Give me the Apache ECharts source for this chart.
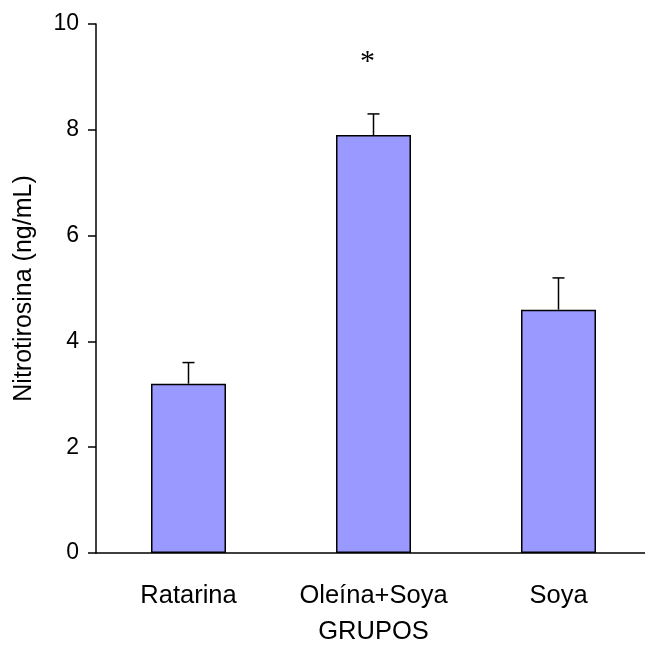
<!DOCTYPE html>
<html>
<head>
<meta charset="utf-8">
<script src="https://cdn.jsdelivr.net/npm/echarts@6/dist/echarts.min.js"></script>
<style>html,body{margin:0;padding:0;background:#fff}#c{width:645px;height:645px}</style>
</head>
<body>
<div id="c"></div>
<script>
var categories = ['Ratarina', 'Oleína+Soya', 'Soya'];
var values = [3.2, 7.9, 4.6];
var errors = [0.4, 0.4, 0.6];
var marks = ['', '*', ''];
var markLevel = [null, 9.3, null];
var yTicks = [0, 2, 4, 6, 8, 10];

var font = 'Liberation Sans, Arial, sans-serif';
var chart = echarts.init(document.getElementById('c'));
var errData = categories.map(function (c, i) { return [i, values[i], values[i] + errors[i]]; });
var markData = categories.map(function (c, i) { return [i, markLevel[i], marks[i]]; }).filter(function (d) { return d[1] != null; });

chart.setOption({
  animation: false,
  backgroundColor: '#fff',
  grid: { left: 96, top: 24, bottom: 92, right: -6, containLabel: false, outerBoundsMode: 'none' },
  xAxis: {
    type: 'category',
    data: categories,
    axisLine: { lineStyle: { color: '#000', width: 1.5 } },
    axisTick: { show: false },
    axisLabel: { color: '#000', fontFamily: font, fontSize: 25.5, margin: 30, interval: 0 },
    name: 'GRUPOS',
    nameLocation: 'middle',
    nameGap: 66,
    nameTextStyle: { color: '#000', fontFamily: font, fontSize: 25.5 }
  },
  yAxis: {
    type: 'value',
    min: yTicks[0],
    max: yTicks[yTicks.length - 1],
    interval: 2,
    splitLine: { show: false },
    axisLine: { show: true, lineStyle: { color: '#000', width: 1.5 } },
    axisTick: { show: true, length: 8, lineStyle: { color: '#000', width: 1.5 } },
    axisLabel: { color: '#000', fontFamily: font, fontSize: 23, margin: 17 },
    name: 'Nitrotirosina (ng/mL)',
    nameLocation: 'middle',
    nameGap: 59,
    nameTextStyle: { color: '#000', fontFamily: font, fontSize: 25 }
  },
  series: [
    {
      type: 'bar',
      data: values,
      barWidth: 75,
      itemStyle: { color: '#9999ff', borderColor: '#000', borderWidth: 1.5 }
    },
    {
      type: 'custom',
      data: errData,
      z: 3,
      renderItem: function (params, api) {
        var x = api.coord([api.value(0), api.value(1)])[0];
        var y0 = api.coord([api.value(0), api.value(1)])[1];
        var y1 = api.coord([api.value(0), api.value(2)])[1];
        var st = { stroke: '#000', lineWidth: 1.5 };
        return {
          type: 'group',
          children: [
            { type: 'line', shape: { x1: x, y1: y0, x2: x, y2: y1 }, style: st },
            { type: 'line', shape: { x1: x - 6, y1: y1, x2: x + 6, y2: y1 }, style: st }
          ]
        };
      }
    },
    {
      type: 'custom',
      data: markData,
      z: 3,
      renderItem: function (params, api) {
        var p = api.coord([api.value(0), api.value(1)]);
        return {
          type: 'text',
          style: {
            x: p[0] - 6, y: p[1] + 1, text: markData[params.dataIndex][2],
            fill: '#000', font: '30px "Liberation Serif", serif',
            textAlign: 'center', textVerticalAlign: 'middle'
          }
        };
      }
    }
  ]
});
</script>
</body>
</html>
